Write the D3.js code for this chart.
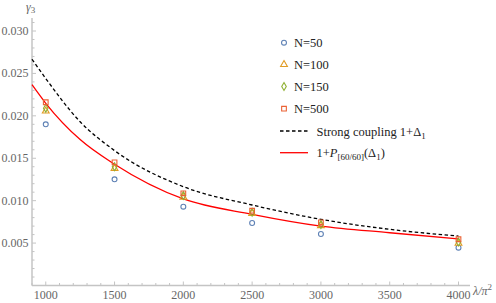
<!DOCTYPE html>
<html>
<head>
<meta charset="utf-8">
<script src="https://cdn.jsdelivr.net/npm/d3@7"></script>
<style>
  body { margin: 0; background: #fff; }
  svg text { font-family: 'Liberation Serif', 'Times New Roman', Times, serif; }
  .tick-label { fill: #666; font-size: 12px; }
  .legend-text { fill: #222; font-size: 12.5px; }
</style>
</head>
<body>
<div id="chart"></div>
<script>
const lambdas = [1000, 1500, 2000, 2500, 3000, 4000];
const n50 = [0.0190, 0.01252, 0.00929, 0.00737, 0.00607, 0.00446];
const n100 = [0.02057, 0.0138, 0.0104, 0.0085, 0.00705, 0.00497];
const n150 = [0.0209, 0.0140, 0.0106, 0.00863, 0.00719, 0.00513];
const n500 = [0.0216, 0.01452, 0.01087, 0.00882, 0.00745, 0.00545];

const curveX = [900, 1000, 1250, 1500, 2000, 2500, 3000, 3500, 4000];
const strongY = [0.02667, 0.0244, 0.0193, 0.0159, 0.01165, 0.00949, 0.0078, 0.00662, 0.00583];
const padeY = [0.02367, 0.02148, 0.0172, 0.01429, 0.0102, 0.00839, 0.0070, 0.00622, 0.0055];

const xTicks = [1000, 1500, 2000, 2500, 3000, 3500, 4000];
const yTicks = [0.005, 0.010, 0.015, 0.020, 0.025, 0.030];

const width = 496;
const height = 303;

const svg = d3.select('#chart').append('svg')
  .attr('width', width)
  .attr('height', height);

const xScale = d3.scaleLinear().domain([900, 4000]).range([32, 458.5]);
const yScale = d3.scaleLinear().domain([0, 0.030]).range([285.5, 31]);

const axisColor = '#c4c4c4';

// minor ticks
const xMinor = d3.range(900, 4100, 100);
const yMinor = d3.range(0.001, 0.0315, 0.001);

svg.append('g').selectAll('line').data(xMinor)
  .enter().append('line')
  .attr('x1', d => xScale(d)).attr('x2', d => xScale(d))
  .attr('y1', yScale(0)).attr('y2', d => yScale(0) - (xTicks.includes(Math.round(d)) ? 4 : 2.5))
  .attr('stroke', axisColor).attr('stroke-width', 1);

svg.append('g').selectAll('line').data(yMinor)
  .enter().append('line')
  .attr('y1', d => yScale(d)).attr('y2', d => yScale(d))
  .attr('x1', xScale(900)).attr('x2', d => xScale(900) + (Math.round(d * 1000) % 5 === 0 ? 4 : 2.5))
  .attr('stroke', axisColor).attr('stroke-width', 1);

// axes lines
svg.append('line')
  .attr('x1', xScale(900)).attr('x2', 470)
  .attr('y1', yScale(0)).attr('y2', yScale(0))
  .attr('stroke', axisColor).attr('stroke-width', 1.5);
svg.append('line')
  .attr('x1', xScale(900)).attr('x2', xScale(900))
  .attr('y1', yScale(0)).attr('y2', 18)
  .attr('stroke', axisColor).attr('stroke-width', 1.5);

// tick labels
svg.append('g').selectAll('text').data(xTicks)
  .enter().append('text')
  .attr('class', 'tick-label')
  .attr('x', d => xScale(d))
  .attr('y', 298.5)
  .attr('text-anchor', 'middle')
  .text(d => d);

svg.append('g').selectAll('text').data(yTicks)
  .enter().append('text')
  .attr('class', 'tick-label')
  .attr('x', 28.5)
  .attr('y', d => yScale(d) + 4)
  .attr('text-anchor', 'end')
  .text(d3.format('.3f'));

// axis labels
const xl = svg.append('text')
  .attr('x', 473).attr('y', 294.5)
  .attr('fill', '#666').style('font-size', '12px');
xl.append('tspan').style('font-style', 'italic').text('λ/π');
xl.append('tspan').attr('dy', -5).style('font-size', '9px').text('2');

const yl = svg.append('text')
  .attr('x', 26).attr('y', 11)
  .attr('fill', '#666').style('font-size', '12px');
yl.append('tspan').style('font-style', 'italic').text('γ');
yl.append('tspan').attr('dy', 2).style('font-size', '9px').text('3');

// curves
const line = d3.line()
  .x(d => xScale(d[0]))
  .y(d => yScale(d[1]))
  .curve(d3.curveMonotoneX);

svg.append('path')
  .datum(curveX.map((x, i) => [x, strongY[i]]))
  .attr('d', line)
  .attr('fill', 'none')
  .attr('stroke', '#000')
  .attr('stroke-width', 1.3)
  .attr('stroke-dasharray', '3.5,2.5');

svg.append('path')
  .datum(curveX.map((x, i) => [x, padeY[i]]))
  .attr('d', line)
  .attr('fill', 'none')
  .attr('stroke', '#ff0000')
  .attr('stroke-width', 1.3);

// points
const series = [
  {name: 'N=50', values: n50, color: '#5e81b5', symbol: d3.symbolCircle, size: 19},
  {name: 'N=100', values: n100, color: '#e19c24', symbol: d3.symbolTriangle, size: 20},
  {name: 'N=150', values: n150, color: '#8fb032', symbol: d3.symbolDiamond, size: 18},
  {name: 'N=500', values: n500, color: '#eb6235', symbol: d3.symbolSquare, size: 22}
];

series.forEach(s => {
  svg.append('g').selectAll('path')
    .data(lambdas.map((x, i) => [x, s.values[i]]))
    .enter().append('path')
    .attr('d', d3.symbol().type(s.symbol).size(s.size))
    .attr('transform', d => `translate(${xScale(d[0])},${yScale(d[1])})`)
    .attr('fill', 'none')
    .attr('stroke', s.color)
    .attr('stroke-width', 1.1);
});

// legend
const legY = [42.7, 64.5, 86.5, 108.7];
series.forEach((s, i) => {
  svg.append('path')
    .attr('d', d3.symbol().type(s.symbol).size(s.size))
    .attr('transform', `translate(284,${legY[i]})`)
    .attr('fill', 'none')
    .attr('stroke', s.color)
    .attr('stroke-width', 1.1);
  svg.append('text')
    .attr('class', 'legend-text')
    .attr('x', 294)
    .attr('y', legY[i] + 4.5)
    .text(s.name);
});

svg.append('line')
  .attr('x1', 280).attr('x2', 308)
  .attr('y1', 131).attr('y2', 131)
  .attr('stroke', '#000').attr('stroke-width', 1.3)
  .attr('stroke-dasharray', '3.5,2.5');
const t1 = svg.append('text')
  .attr('class', 'legend-text')
  .attr('x', 316.5).attr('y', 135.5);
t1.append('tspan').text('Strong coupling 1+Δ');
t1.append('tspan').attr('dy', 3).style('font-size', '9px').text('1');

svg.append('line')
  .attr('x1', 280).attr('x2', 308)
  .attr('y1', 152.7).attr('y2', 152.7)
  .attr('stroke', '#ff0000').attr('stroke-width', 1.3);
const t2 = svg.append('text')
  .attr('class', 'legend-text')
  .attr('x', 316.5).attr('y', 157);
t2.append('tspan').text('1+');
t2.append('tspan').style('font-style', 'italic').text('P');
t2.append('tspan').attr('dy', 3).style('font-size', '9px').text('[60/60]');
t2.append('tspan').attr('dy', -3).text('(Δ');
t2.append('tspan').attr('dy', 3).style('font-size', '9px').text('1');
t2.append('tspan').attr('dy', -3).text(')');
</script>
</body>
</html>
